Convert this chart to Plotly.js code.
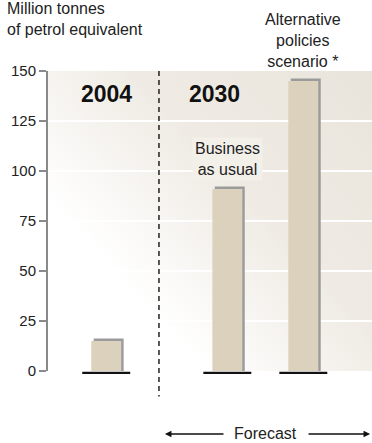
<!DOCTYPE html>
<html>
<head>
<meta charset="utf-8">
<script src="https://cdn.plot.ly/plotly-3.0.1.min.js"></script>
<style>
  html, body { margin: 0; padding: 0; background: #ffffff; }
  #chart { width: 372px; height: 443px; }
</style>
</head>
<body>
<div id="chart"></div>
<script>
// ---- data ----
var categories = ["2004", "Business as usual", "Alternative policies scenario *"];
var values = [15, 91, 145];
var yTicks = [0, 25, 50, 75, 100, 125, 150];
var periodLabels = ["2004", "2030"];
var unitLabel = "Million tonnes<br>of petrol equivalent";
var forecastLabel = "Forecast";

// ---- layout positions (x axis in arbitrary units, 0..4) ----
var barPos = [0.719, 2.214, 3.152];
var barWidth = 0.37;
var baseHalf = 0.296;
var shadowDx = 0.03;
var shadowDy = 1.2;
var dividerX = 1.37;

var FONT = "Liberation Sans, Arial, sans-serif";

// background gradient as an image
function gradientURL() {
  var c = document.createElement("canvas");
  c.width = 324; c.height = 300;
  var g = c.getContext("2d");
  var lg = g.createLinearGradient(0, 300, 324, 0);
  lg.addColorStop(0, "#ffffff");
  lg.addColorStop(0.26, "#ffffff");
  lg.addColorStop(0.6, "#efebe4");
  lg.addColorStop(1, "#e9e4db");
  g.fillStyle = lg;
  g.fillRect(0, 0, 324, 300);
  return c.toDataURL("image/png");
}

var shadowTrace = {
  type: "bar",
  x: barPos.map(function (p) { return p + shadowDx; }),
  y: values.map(function (v) { return v + shadowDy; }),
  width: barWidth,
  marker: { color: "#9b9b9b", line: { width: 0 } },
  hoverinfo: "skip",
  showlegend: false
};
var barTrace = {
  type: "bar",
  x: barPos,
  y: values,
  text: categories,
  textposition: "none",
  width: barWidth,
  marker: { color: "#dcd1bd", line: { width: 0 } },
  showlegend: false
};

var shapes = barPos.map(function (p) {
  return {
    type: "line", xref: "x", yref: "paper",
    x0: p - baseHalf, x1: p + baseHalf,
    y0: -0.006, y1: -0.006,
    line: { color: "#111111", width: 2.2 }
  };
});
shapes.push({
  type: "line", xref: "x", yref: "paper",
  x0: dividerX, x1: dividerX, y0: 1, y1: -0.085,
  line: { color: "#111111", width: 1.4, dash: "5px,4px" }
});

var annotations = [
  { text: unitLabel, xref: "paper", yref: "paper", x: -0.132, y: 1.243,
    xanchor: "left", yanchor: "top", align: "left", showarrow: false,
    font: { family: FONT, size: 16, color: "#222222" } },
  { text: periodLabels[0], xref: "x", yref: "paper", x: barPos[0], y: 0.923,
    xanchor: "center", yanchor: "middle", showarrow: false,
    font: { family: FONT, size: 23, color: "#111111", weight: "bold" } },
  { text: periodLabels[1], xref: "paper", yref: "paper", x: 0.515, y: 0.923,
    xanchor: "center", yanchor: "middle", showarrow: false,
    font: { family: FONT, size: 23, color: "#111111", weight: "bold" } },
  { text: "Business<br>as usual", xref: "x", yref: "paper", x: barPos[1], y: 0.707,
    xanchor: "center", yanchor: "middle", showarrow: false, align: "center",
    bgcolor: "#f3f0ea", borderpad: 2,
    font: { family: FONT, size: 16, color: "#222222" } },
  { text: "Alternative<br>policies<br>scenario *", xref: "x", yref: "paper", x: barPos[2], y: 1.103,
    xanchor: "center", yanchor: "middle", showarrow: false, align: "center",
    font: { family: FONT, size: 16, color: "#222222" } },
  { text: forecastLabel, xref: "paper", yref: "paper", x: 0.67, y: -0.207,
    xanchor: "center", yanchor: "middle", showarrow: false,
    font: { family: FONT, size: 16, color: "#222222" } },
  { text: "", xref: "paper", yref: "paper", x: 0.361, y: -0.21,
    axref: "pixel", ayref: "pixel", ax: 60, ay: 0, showarrow: true,
    arrowhead: 2, arrowsize: 1, arrowwidth: 1.3, arrowcolor: "#111111", standoff: 0 },
  { text: "", xref: "paper", yref: "paper", x: 0.994, y: -0.21,
    axref: "pixel", ayref: "pixel", ax: -63, ay: 0, showarrow: true,
    arrowhead: 2, arrowsize: 1, arrowwidth: 1.3, arrowcolor: "#111111", standoff: 0 }
];

var layout = {
  width: 372, height: 443,
  margin: { l: 48, r: 0, t: 71, b: 72, pad: 0 },
  paper_bgcolor: "#ffffff",
  plot_bgcolor: "rgba(0,0,0,0)",
  barmode: "overlay",
  showlegend: false,
  font: { family: FONT, color: "#222222" },
  xaxis: { range: [0, 4], showgrid: false, zeroline: false, showline: false,
           showticklabels: false, ticks: "", fixedrange: true },
  yaxis: { range: [0, 150], tickvals: yTicks, ticktext: yTicks.map(String),
           showgrid: true, gridcolor: "#ffffff", gridwidth: 2,
           zeroline: false, showline: true, linecolor: "#8a8a8a", linewidth: 2,
           ticks: "outside", ticklen: 7, tickwidth: 1.5, tickcolor: "#8a8a8a",
           tickfont: { family: FONT, size: 15, color: "#222222" },
           fixedrange: true },
  images: [{ source: gradientURL(), xref: "paper", yref: "paper",
             x: 0, y: 1, sizex: 1, sizey: 1, sizing: "stretch",
             xanchor: "left", yanchor: "top", layer: "below" }],
  shapes: shapes,
  annotations: annotations
};

Plotly.newPlot("chart", [shadowTrace, barTrace], layout, { displayModeBar: false, staticPlot: true });
</script>
</body>
</html>
